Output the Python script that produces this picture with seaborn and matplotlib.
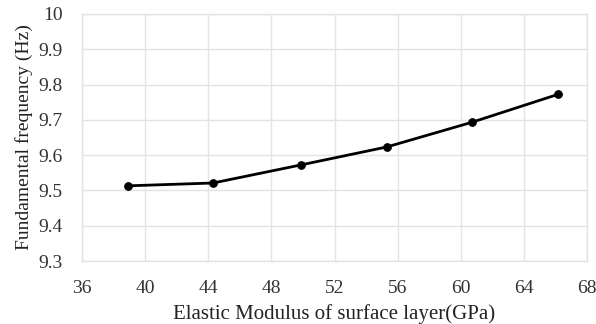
import pandas as pd
import seaborn as sns
import matplotlib
matplotlib.use("Agg")
import matplotlib.pyplot as plt

# data
modulus = [38.9, 44.3, 49.85, 55.3, 60.7, 66.15]
frequency = [9.513, 9.521, 9.572, 9.623, 9.693, 9.772]
x_ticks = [36, 40, 44, 48, 52, 56, 60, 64, 68]
y_ticks = [9.3, 9.4, 9.5, 9.6, 9.7, 9.8, 9.9, 10]
y_tick_labels = ["9.3", "9.4", "9.5", "9.6", "9.7", "9.8", "9.9", "10"]

df = pd.DataFrame({"modulus": modulus, "frequency": frequency})

sns.set_theme(style="whitegrid")
plt.rcParams["font.family"] = ["Liberation Serif", "DejaVu Serif"]

fig = plt.figure(figsize=(5.96, 3.24), dpi=100)
ax = fig.add_axes([0.1376, 0.1944, 0.8474, 0.7626])

sns.lineplot(data=df, x="modulus", y="frequency", ax=ax, color="black",
             linewidth=2, marker="o", markersize=5.5, markeredgecolor="black")

ax.set_xlim(36, 68)
ax.set_ylim(9.3, 10)
ax.set_xticks(x_ticks)
ax.set_yticks(y_ticks)
ax.set_yticklabels(y_tick_labels)
ax.tick_params(axis="both", labelsize=14, colors="#333333", length=0)
ax.tick_params(axis="y", pad=14)
ax.tick_params(axis="x", pad=14)
ax.grid(True, color="#e3e3e3", linewidth=1)
for s in ax.spines.values():
    s.set_color("#e3e3e3")
    s.set_linewidth(1)

ax.set_xlabel("Elastic Modulus of surface layer(GPa)", fontsize=15, color="#222222", labelpad=5)
ax.set_ylabel("Fundamental frequency (Hz)", fontsize=14, color="#222222", labelpad=4)

fig.savefig("out.png", dpi=100)
